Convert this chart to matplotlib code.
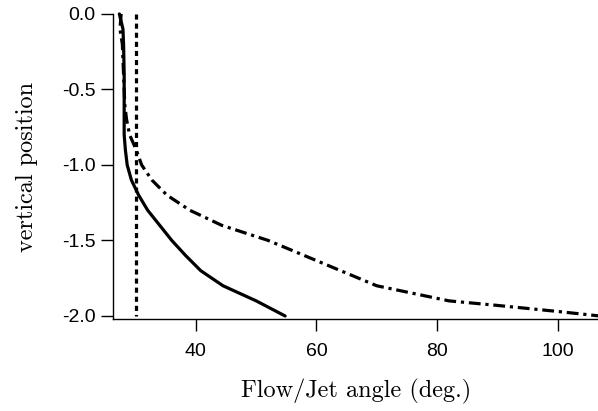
import matplotlib
matplotlib.use("Agg")
import matplotlib.pyplot as plt

# solid curve
solid_y = [0.0, -0.1, -0.2, -0.4, -0.6, -0.8, -0.9, -1.0, -1.1, -1.2, -1.3, -1.4, -1.5, -1.6, -1.7, -1.8, -1.9, -2.0]
solid_x = [27.3, 27.9, 28.0, 28.1, 28.1, 28.1, 28.3, 28.6, 29.3, 30.5, 32.0, 34.0, 36.0, 38.3, 40.8, 44.5, 50.0, 54.8]

# dash-dot curve
dashdot_y = [0.0, -0.1, -0.2, -0.4, -0.6, -0.7, -0.8, -0.9, -1.0, -1.1, -1.2, -1.3, -1.4, -1.5, -1.6, -1.7, -1.8, -1.9, -1.93, -1.97, -2.0]
dashdot_x = [27.6, 27.4, 27.8, 28.0, 28.2, 28.5, 29.0, 30.1, 31.0, 32.7, 35.2, 39.0, 44.3, 52.0, 58.0, 64.0, 70.0, 82.0, 90.0, 100.0, 107.0]

# dashed vertical line
dashed_x = [30.0, 30.0]
dashed_y = [0.0, -2.0]

xticks = [40, 60, 80, 100]
yticks = [0.0, -0.5, -1.0, -1.5, -2.0]
ytick_labels = ["0.0", "-0.5", "-1.0", "-1.5", "-2.0"]

fig = plt.figure(figsize=(5.98, 4.11), dpi=100)
ax = fig.add_axes([0.1895, 0.2231, 0.8105, 0.743])

lw = 2.3
ax.plot(solid_x, solid_y, color="black", lw=lw, clip_on=False, solid_capstyle="round")
ax.plot(dashdot_x, dashdot_y, color="black", lw=lw, clip_on=False,
        dashes=(3.7, 1.5, 1.0, 1.5))
ax.plot(dashed_x, dashed_y, color="black", lw=lw, clip_on=False, dashes=(1.6, 1.25))

ax.set_xlim(26.3, 106.7)
ax.set_ylim(-2.022, 0.0)

for s in ["top", "right"]:
    ax.spines[s].set_visible(False)
for s in ["left", "bottom"]:
    ax.spines[s].set_linewidth(1.0)

ax.set_xticks(xticks)
ax.set_yticks(yticks)
ax.set_yticklabels(ytick_labels)
ax.tick_params(direction="out", length=8.4, width=1.0, labelsize=14)
ax.tick_params(axis="x", pad=9)
ax.tick_params(axis="y", pad=4.6)
for lab in ax.get_xticklabels() + ax.get_yticklabels():
    lab.set_fontfamily("Liberation Sans")

ax.set_xlabel("Flow/Jet angle (deg.)", fontfamily="cmr10", fontsize=17.5, labelpad=13)
ax.set_ylabel("vertical position", fontfamily="cmr10", fontsize=17.5, labelpad=17)

fig.savefig("out.png", dpi=100)
